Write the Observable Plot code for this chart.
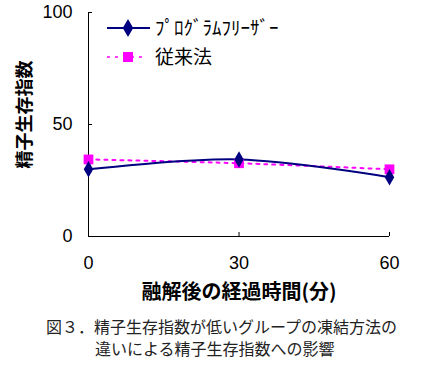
<!DOCTYPE html>
<html><head><meta charset="utf-8">
<script src="https://cdn.jsdelivr.net/npm/d3@7"></script>
<script src="https://cdn.jsdelivr.net/npm/@observablehq/plot@0.6"></script>
<style>
body{margin:0;background:#fff;font-family:"Noto Sans CJK JP",sans-serif;}
#wrap{position:relative;width:422px;height:365px;}
#wrap > svg:first-child{position:absolute;left:0;top:0;}
.leg{position:absolute;left:0;top:0;}
.cap{position:absolute;left:46px;top:315px;font-size:16px;line-height:22px;color:#222;font-family:"Noto Sans CJK JP";}
</style></head><body>
<div id="wrap"></div>
<script>
const minutes = [0, 30, 60];
const programFreezer = [30, 34.4, 26.5];
const conventional = [34.4, 32.7, 30];
const seriesNames = ["ﾌﾟﾛｸﾞﾗﾑﾌﾘｰｻﾞｰ", "従来法"];
const yTicks = [0, 50, 100];
const xTicks = [0, 30, 60];

const pf = minutes.map((m, i) => ({m, v: programFreezer[i]}));
const cv = minutes.map((m, i) => ({m, v: conventional[i]}));

const navy = "#000080", mag = "#FF00FF";
const chart = Plot.plot({
  width: 422, height: 310,
  marginLeft: 88, marginRight: 33, marginTop: 12, marginBottom: 74,
  style: {fontFamily: "'Liberation Sans', Arial, sans-serif", fontSize: "18px", color: "#000", background: "#fff"},
  x: {domain: [0, 60]},
  y: {domain: [0, 100]},
  marks: [
    Plot.ruleX([0], {stroke: "#000"}),
    Plot.ruleY([0], {stroke: "#000"}),
    Plot.axisY({ticks: yTicks, tickSize: -4, tickPadding: 20, label: null, tickFormat: d => d}),
    Plot.axisX({ticks: xTicks, tickSize: -4, tickPadding: 24, label: null, tickFormat: d => d}),
    Plot.line(cv, {x: "m", y: "v", stroke: mag, strokeWidth: 2, strokeDasharray: "3,5", curve: "catmull-rom"}),
    Plot.line(pf, {x: "m", y: "v", stroke: navy, strokeWidth: 2, curve: "catmull-rom"}),
    Plot.dot(cv, {x: "m", y: "v", symbol: "square", fill: mag, r: 5.5}),
    Plot.dot(pf, {x: "m", y: "v", symbol: "diamond", fill: navy, r: 5}),
    Plot.text(["精子生存指数"], {frameAnchor: "left", textAnchor: "middle", text: d => d, rotate: -90, dx: -63, dy: -10, fontSize: 18, fontWeight: "bold", fontFamily: "Noto Sans CJK JP"}),
    Plot.text(["融解後の経過時間(分)"], {frameAnchor: "bottom", text: d => d, dy: 62, fontSize: 20, fontWeight: "bold", fontFamily: "Noto Sans CJK JP"})
  ]
});
const wrap = document.getElementById("wrap");
wrap.appendChild(chart);

const leg = document.createElementNS("http://www.w3.org/2000/svg", "svg");
leg.setAttribute("class", "leg");
leg.setAttribute("width", 422); leg.setAttribute("height", 80);
leg.innerHTML = `
<line x1="107" x2="150" y1="28" y2="28" stroke="${navy}" stroke-width="2"/>
<path d="${d3.symbol(d3.symbolDiamond, 95)()}" transform="translate(128,28)" fill="${navy}"/>
<text x="155" y="28" dy="0.35em" font-size="19" font-family="Noto Sans CJK JP">${seriesNames[0]}</text>
<line x1="107" x2="147" y1="57" y2="57" stroke="${mag}" stroke-width="1.5" stroke-dasharray="3,5"/>
<rect x="123" y="52" width="10" height="10" fill="${mag}"/>
<text x="155" y="57" dy="0.35em" font-size="19" font-family="Noto Sans CJK JP">${seriesNames[1]}</text>`;
wrap.appendChild(leg);

const cap = document.createElement("div");
cap.className = "cap";
cap.innerHTML = "図３．精子生存指数が低いグループの凍結方法の<br><span style='padding-left:49px'>違いによる精子生存指数への影響</span>";
wrap.appendChild(cap);
</script>
</body></html>
